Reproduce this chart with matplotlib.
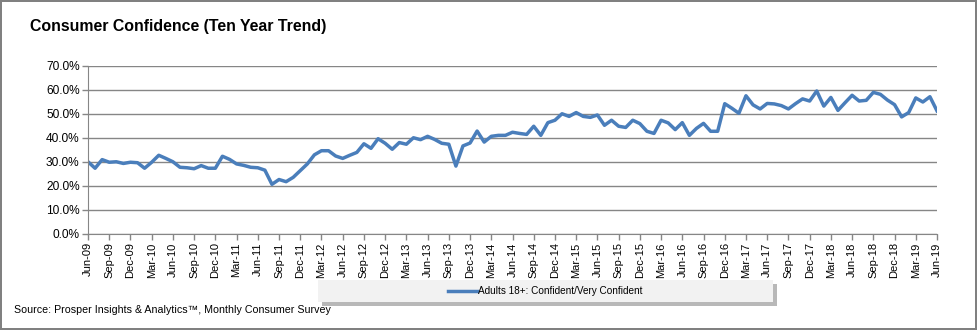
import pandas as pd
import matplotlib
matplotlib.use('Agg')
import matplotlib.pyplot as plt
from matplotlib.patches import Rectangle
from matplotlib.ticker import PercentFormatter

plt.rcParams['font.family'] = ['Liberation Sans', 'DejaVu Sans']

# monthly share of adults 18+ confident / very confident (%), Jun-09 .. Jun-19
conf_2009 = [30.1, 27.4, 31.0, 29.9, 30.1, 29.4, 29.9]
conf_2010 = [29.7, 27.4, 29.9, 32.8, 31.5, 30.1, 27.8, 27.6, 27.2, 28.5, 27.4, 27.4]
conf_2011 = [32.4, 31.1, 29.2, 28.6, 27.8, 27.6, 26.6, 20.7, 22.7, 21.8, 23.6, 26.4]
conf_2012 = [29.2, 33.0, 34.7, 34.7, 32.5, 31.5, 32.8, 34.0, 37.6, 35.7, 39.7, 37.8]
conf_2013 = [35.3, 38.1, 37.4, 40.1, 39.3, 40.7, 39.4, 37.8, 37.4, 28.3, 36.7, 37.9]
conf_2014 = [42.9, 38.3, 40.7, 41.1, 41.1, 42.4, 41.9, 41.5, 44.9, 41.1, 46.4, 47.4]
conf_2015 = [50.1, 49.0, 50.6, 49.0, 48.6, 49.6, 45.3, 47.4, 44.9, 44.4, 47.4, 46.0]
conf_2016 = [42.8, 41.9, 47.4, 46.3, 43.5, 46.4, 41.1, 44.0, 46.1, 42.8, 42.8, 54.3]
conf_2017 = [52.4, 50.3, 57.6, 53.8, 52.1, 54.4, 54.2, 53.5, 52.1, 54.3, 56.3, 55.4]
conf_2018 = [59.6, 53.3, 56.9, 51.5, 54.7, 57.8, 55.4, 55.7, 59.0, 58.2, 55.8, 53.9]
conf_2019 = [48.8, 50.6, 56.7, 55.0, 57.2, 51.3]

series_label = 'Adults 18+: Confident/Very Confident'
title = 'Consumer Confidence (Ten Year Trend)'
source = 'Source: Prosper Insights & Analytics\u2122, Monthly Consumer Survey'

values = (conf_2009 + conf_2010 + conf_2011 + conf_2012 + conf_2013 + conf_2014
          + conf_2015 + conf_2016 + conf_2017 + conf_2018 + conf_2019)
months = pd.date_range('2009-06-01', periods=len(values), freq='MS')
df = pd.DataFrame({'month': months, 'value': values})
df['pos'] = range(len(df))

fig = plt.figure(figsize=(9.77, 3.3), dpi=100)
fig.patch.set_facecolor('white')
fig.patch.set_edgecolor('#808080')
fig.patch.set_linewidth(1.5)

ax = fig.add_axes([88 / 977, 1 - 234 / 330, 849 / 977, 168 / 330])
line, = ax.plot(df['pos'], df['value'], color='#4a7ebb', lw=2.5, label=series_label)

ax.set_xlim(0, len(df) - 1)
ax.set_ylim(0, 70)
ax.set_yticks(range(0, 71, 10))
ax.yaxis.set_major_formatter(PercentFormatter(decimals=1))
ax.grid(axis='y', color='#868686', lw=1)
ax.set_axisbelow(True)

tick_pos = df['pos'][::3]
ax.set_xticks(tick_pos)
ax.set_xticklabels(df['month'][::3].dt.strftime('%b-%y'), rotation=90)

for s in ['top', 'right']:
    ax.spines[s].set_visible(False)
for s in ['left', 'bottom']:
    ax.spines[s].set_color('#868686')
ax.tick_params(axis='both', color='#868686', length=4, width=1, pad=2)
ax.tick_params(axis='y', labelsize=8.6)
ax.tick_params(axis='x', labelsize=8)

fig.text(30 / 977, 1 - 27 / 330, title, fontsize=11.4, fontweight='bold', va='center', ha='left')
fig.text(14 / 977, 1 - 310 / 330, source, fontsize=7.7, va='center', ha='left')

# legend box with shadow
bx, by, bw, bh = 318 / 977, 1 - 302 / 330, 455 / 977, 22 / 330
fig.patches.append(Rectangle((bx + 4 / 977, by - 4 / 330), bw, bh, transform=fig.transFigure,
                             facecolor='#8a8a8a', edgecolor='none', alpha=0.6, zorder=1))
fig.patches.append(Rectangle((bx, by), bw, bh, transform=fig.transFigure,
                             facecolor='#f2f2f2', edgecolor='none', zorder=2))
fig.legend(handles=[line], loc='center', bbox_to_anchor=(bx + bw / 2, by + bh / 2),
           frameon=False, fontsize=7.2, handlelength=2.9, handletextpad=0.15)

fig.savefig('out.png', dpi=100, edgecolor=fig.get_edgecolor())
